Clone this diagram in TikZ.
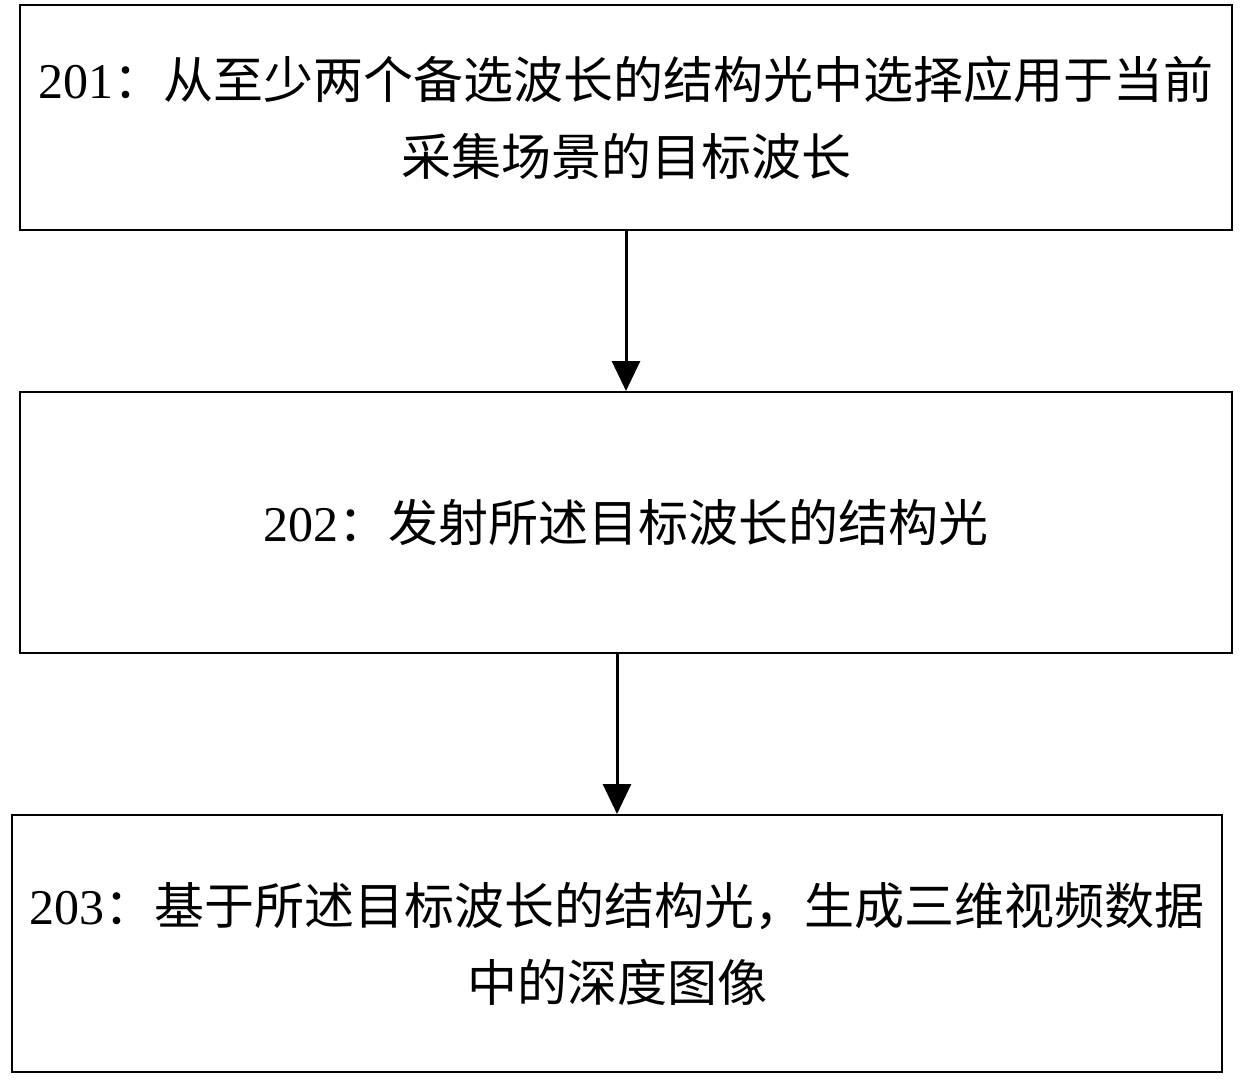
\documentclass[tikz,border=0pt]{standalone}
\usepackage{fontspec}
\setmainfont{Liberation Serif}
\newfontfamily\cjk{Noto Sans CJK SC}
\usetikzlibrary{arrows.meta}
\begin{document}
\begin{tikzpicture}[x=1pt,y=1pt,
  stepbox/.style={draw, line width=2pt, inner sep=0pt, align=center,
    font=\fontsize{50}{77}\selectfont},
  flow/.style={line width=3pt, -{Triangle[length=30pt,width=28pt]}}]
\useasboundingbox (0,0) rectangle (1246,-1079);
% boxes
\node[stepbox, minimum width=1212, minimum height=225, text width=1200] (s1) at (626,-117.5)
  {201{\cjk ：从至少两个备选波长的结构光中选择应用于当前\\采集场景的目标波长}};
\node[stepbox, minimum width=1212, minimum height=261, text width=1200] (s2) at (626,-522.5)
  {202{\cjk ：发射所述目标波长的结构光}};
\node[stepbox, minimum width=1210, minimum height=257, text width=1200] (s3) at (617,-943.5)
  {203{\cjk ：基于所述目标波长的结构光，生成三维视频数据\\中的深度图像}};
% arrows
\draw[flow] (s1.south) -- (s1.south |- s2.north);
\draw[flow] (s3.north |- s2.south) -- (s3.north);
\end{tikzpicture}
\end{document}
